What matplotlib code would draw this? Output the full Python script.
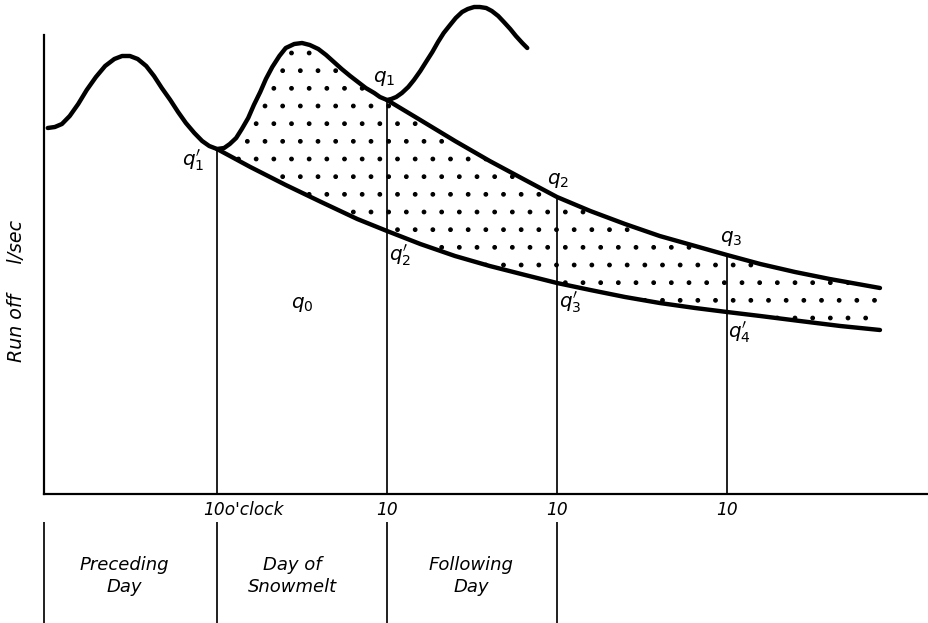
import numpy as np
import matplotlib
matplotlib.use("Agg")
import matplotlib.pyplot as plt

DPI = 106


def pt(pixels):
    # pixel size -> points at the figure dpi
    return pixels * 72 / DPI


# time in hours after 10 o'clock on the day of snowmelt, runoff in arbitrary l/sec units
hydro_t = [-23.9, -22.9, -21.9, -20.8, -19.6, -18.4, -17.1, -15.8, -14.5, -13.4, -12.3, -11.2,
           -10.0, -8.9, -7.8, -6.6, -5.5, -4.4, -3.2, -2.1, -1.1, 0.0,
           1.0, 1.8, 2.7, 3.5, 4.4, 5.2, 6.1, 6.9, 7.8, 8.8, 9.7, 10.9, 12.0, 13.1, 14.3,
           15.4, 16.5, 17.6, 18.8, 19.9, 21.0, 22.2, 23.0, 24.0,
           24.6, 25.3, 26.1, 27.0, 27.8, 28.7, 29.5, 30.4, 31.2, 32.0, 32.9, 33.7, 34.6,
           35.4, 36.3, 37.1, 38.0, 38.8, 39.7, 40.5, 41.4, 42.2, 43.1, 43.8]
hydro_q = [366, 367, 370, 378, 390, 404, 417, 428, 435, 438, 438, 435,
           428, 418, 406, 394, 382, 371, 361, 353, 348, 345,
           346, 350, 356, 365, 376, 389, 402, 415, 427, 438, 446, 450, 451, 449, 445,
           439, 432, 425, 418, 412, 406, 401, 397, 394,
           395, 397, 401, 407, 414, 423, 432, 442, 452, 461, 469, 476, 482,
           485, 487, 487, 486, 483, 478, 472, 465, 458, 451, 446]

# recession curve through q1, q2, q3 (upper edge of the dotted band)
upper_t = [24.0, 28.7, 33.6, 38.5, 43.5, 48.0, 52.7, 57.6, 62.5, 67.5, 72.0, 76.7, 81.6, 86.5, 93.6]
upper_q = [394, 374, 353, 333, 314, 297, 283, 270, 258, 248, 239, 230, 222, 215, 206]

# recession curve through q1', q2', q3', q4' (lower edge)
lower_t = [0.0, 4.7, 9.7, 14.7, 19.8, 24.0, 28.7, 33.6, 38.5, 43.5, 48.0, 52.7, 57.6, 62.5,
           67.5, 72.0, 76.7, 82.3, 88.0, 93.6]
lower_q = [345, 327, 309, 292, 275, 263, 250, 238, 228, 219, 211, 204, 197, 191,
           186, 182, 178, 173, 168, 164]

day_marks = [0, 24, 48, 72]
mark_q = [345, 394, 297, 239]
tick_labels = ["10o'clock", "10", "10", "10"]
day_names = ["Preceding\nDay", "Day of\nSnowmelt", "Following\nDay"]
day_bounds = [-24.43, 0, 24, 48]

fig = plt.figure(figsize=(928 / DPI, 623 / DPI), dpi=DPI)
ax = fig.add_axes([44 / 928, 129 / 623, 884 / 928, 459 / 623])
ax.set_xlim(-24.43, 100.38)
ax.set_ylim(0, 459)

for side in ["top", "right"]:
    ax.spines[side].set_visible(False)
for side in ["left", "bottom"]:
    ax.spines[side].set_linewidth(pt(2.2))

plt.rcParams["hatch.linewidth"] = pt(1.2)

# dotted band between the observed hydrograph / upper recession and lower recession
ht = np.array(hydro_t)
hq = np.array(hydro_q)
keep = (ht >= 0) & (ht <= 24)
band_t = np.concatenate([ht[keep], upper_t[1:], lower_t[::-1]])
band_q = np.concatenate([hq[keep], upper_q[1:], lower_q[::-1]])
ax.fill(band_t, band_q, facecolor="none", edgecolor="black", hatch=".", linewidth=0)

lw = pt(4.4)
line_style = dict(color="black", lw=lw, solid_capstyle="round", solid_joinstyle="round")
ax.plot(hydro_t, hydro_q, clip_on=False, **line_style)
ax.plot(upper_t, upper_q, **line_style)
ax.plot(lower_t, lower_q, **line_style)

ax.vlines(day_marks, 0, mark_q, color="black", lw=pt(1.7))

# day boxes below the time axis
ax.vlines(day_bounds, -28, -130, color="black", lw=pt(1.7), clip_on=False)

fs = pt(17)
ax.set_xticks(day_marks[1:], tick_labels[1:])
ax.set_yticks([])
ax.tick_params(axis="x", length=0, pad=pt(7), labelsize=fs)
for lab in ax.get_xticklabels():
    lab.set_style("italic")
ax.text(-2.0, -7, tick_labels[0], ha="left", va="top", fontsize=fs, style="italic")

name_x = [-13.1, 10.6, 35.9]
for x, name in zip(name_x, day_names):
    ax.text(x, -82, name, ha="center", va="center", fontsize=pt(18), style="italic",
            linespacing=1.35, clip_on=False)

ax.set_ylabel("Run off     l/sec", fontsize=pt(19), style="italic")
ax.yaxis.set_label_coords(-0.020, 0.442)

qfs = pt(20)
labels = [
    (-3.4, 334, r"$q_1'$"),
    (23.6, 416, r"$q_1$"),
    (25.8, 239, r"$q_2'$"),
    (12.1, 189, r"$q_0$"),
    (48.1, 314, r"$q_2$"),
    (49.8, 192, r"$q_3'$"),
    (72.6, 256, r"$q_3$"),
    (73.8, 162, r"$q_4'$"),
]
for x, y, s in labels:
    ax.text(x, y, s, ha="center", va="center", fontsize=qfs)

fig.savefig("out.png", dpi=DPI)
plt.close(fig)
